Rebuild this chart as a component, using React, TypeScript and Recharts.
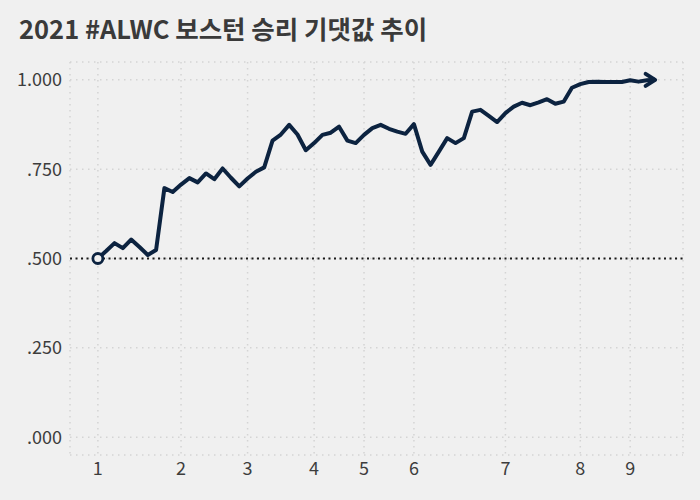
import { LineChart, Line, XAxis, YAxis, CartesianGrid, ReferenceLine } from 'recharts';

// one value per plate appearance, Boston win expectancy
const winExp = [
  0.5, 0.521, 0.543, 0.529, 0.553, 0.532, 0.51, 0.524, 0.697, 0.686,
  0.707, 0.725, 0.713, 0.738, 0.722, 0.752, 0.726, 0.702, 0.724, 0.743,
  0.755, 0.83, 0.847, 0.874, 0.847, 0.803, 0.823, 0.846, 0.852, 0.869,
  0.83, 0.823, 0.846, 0.865, 0.874, 0.863, 0.855, 0.849, 0.876, 0.799,
  0.762, 0.799, 0.837, 0.823, 0.837, 0.911, 0.916, 0.899, 0.882, 0.907,
  0.925, 0.936, 0.929, 0.937, 0.946, 0.933, 0.939, 0.978, 0.988, 0.994,
  0.995, 0.994, 0.994, 0.994, 0.999, 0.995, 0.999, 1.0,
];

// plate appearance index where each inning starts
const inningStarts = [0, 10, 18, 26, 32, 38, 49, 58, 64];
const inningLabels = ['1', '2', '3', '4', '5', '6', '7', '8', '9'];

const yTicks = [0, 0.25, 0.5, 0.75, 1];

const data = winExp.map((we, i) => ({ pa: i, we }));

const NAVY = '#0c2340';
const FONT = '"Noto Sans CJK KR", "Noto Sans", sans-serif';

function EndDot(props: any) {
  const { cx, cy, index } = props;
  if (index === 0) {
    return <circle key="start" cx={cx} cy={cy} r={5} fill="#f0f0f0" stroke={NAVY} strokeWidth={2.8} />;
  }
  if (index === winExp.length - 1) {
    return (
      <path
        key="arrow"
        d={`M${cx - 9.5},${cy - 6} L${cx},${cy} L${cx - 9.5},${cy + 6}`}
        fill="none"
        stroke={NAVY}
        strokeWidth={4}
        strokeLinecap="round"
        strokeLinejoin="round"
      />
    );
  }
  return <g key={`d${index}`} />;
}

export default function App() {
  const tickStyle = { fill: '#3d3d3d', fontSize: 18, fontFamily: FONT };
  return (
    <div style={{ position: 'absolute', left: 0, top: 0, width: 700, height: 500, background: '#f0f0f0' }}>
      <div
        style={{
          position: 'absolute',
          left: 19,
          top: 9,
          fontFamily: FONT,
          fontWeight: 700,
          fontSize: 25.5,
          color: '#3a3a3a',
          whiteSpace: 'nowrap',
        }}
      >
        2021 #ALWC 보스턴 승리 기댓값 추이
      </div>
      <LineChart width={700} height={500} data={data} margin={{ top: 62, right: 17, bottom: 15, left: 10 }}>
        <CartesianGrid stroke="#d4d4d4" strokeWidth={1.5} strokeDasharray="1.5 4.5" />
        <XAxis
          type="number"
          dataKey="pa"
          domain={[-3.35, 70.35]}
          ticks={inningStarts}
          tickFormatter={(v: number) => inningLabels[inningStarts.indexOf(v)]}
          axisLine={false}
          tickLine={false}
          tickSize={0}
          tickMargin={7}
          height={30}
          tick={tickStyle}
          interval={0}
        />
        <YAxis
          type="number"
          domain={[-0.05, 1.05]}
          ticks={yTicks}
          tickFormatter={(v: number) => v.toFixed(3).replace(/^0/, '')}
          axisLine={false}
          tickLine={false}
          tickSize={0}
          tickMargin={8}
          width={60}
          tick={tickStyle}
          interval={0}
        />
        <ReferenceLine y={0.5} stroke="#1a1a1a" strokeWidth={2} strokeDasharray="2 3.5" />
        <Line
          type="linear"
          dataKey="we"
          stroke={NAVY}
          strokeWidth={4}
          strokeLinejoin="round"
          dot={EndDot}
          activeDot={false}
          isAnimationActive={false}
        />
      </LineChart>
    </div>
  );
}
